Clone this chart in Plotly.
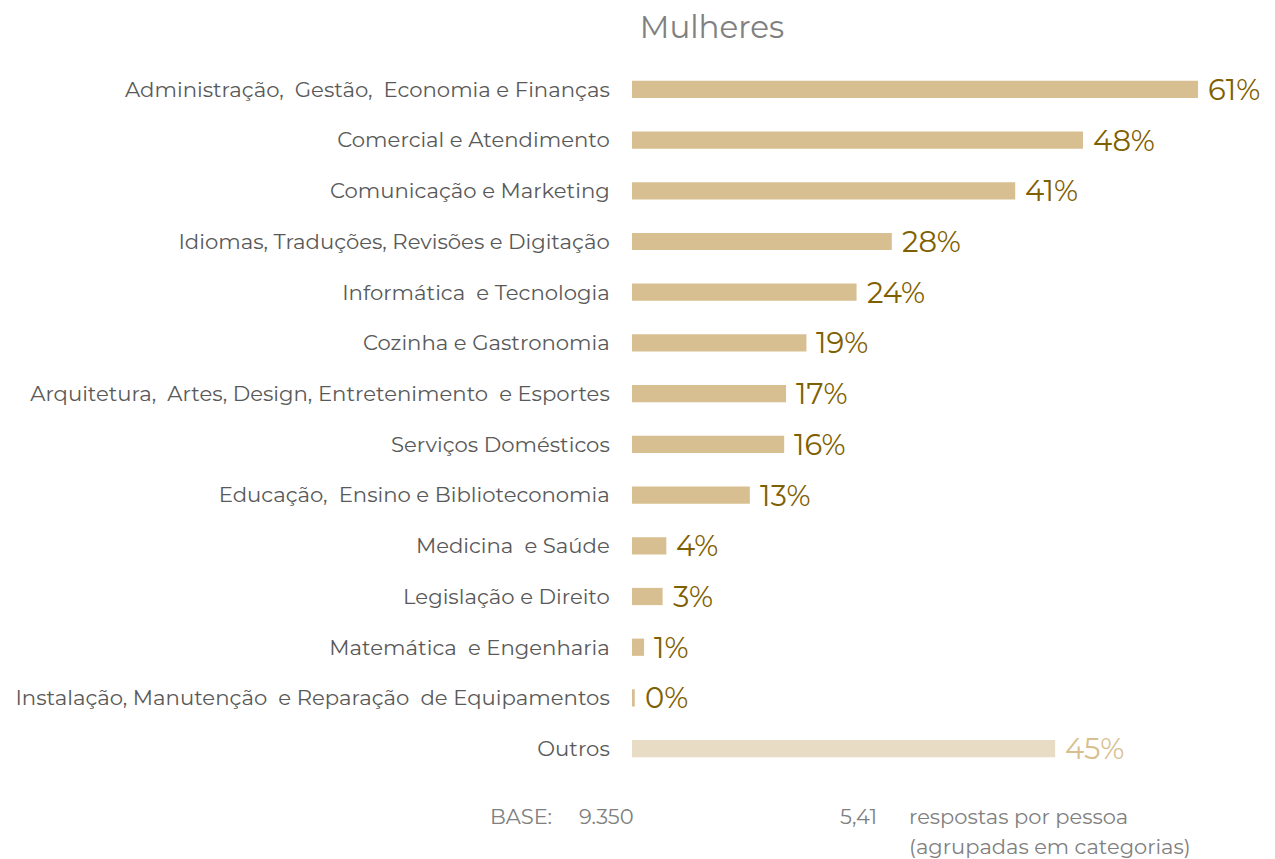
import plotly.graph_objects as go

categories = [
    "Administração,  Gestão,  Economia e Finanças",
    "Comercial e Atendimento",
    "Comunicação e Marketing",
    "Idiomas, Traduções, Revisões e Digitação",
    "Informática  e Tecnologia",
    "Cozinha e Gastronomia",
    "Arquitetura,  Artes, Design, Entretenimento  e Esportes",
    "Serviços Domésticos",
    "Educação,  Ensino e Biblioteconomia",
    "Medicina  e Saúde",
    "Legislação e Direito",
    "Matemática  e Engenharia",
    "Instalação, Manutenção  e Reparação  de Equipamentos",
    "Outros",
]
values = [61.0, 48.6, 41.3, 28.0, 24.2, 18.8, 16.6, 16.4, 12.7, 3.7, 3.3, 1.3, 0.3, 45.6]
value_labels = ["61%", "48%", "41%", "28%", "24%", "19%", "17%", "16%", "13%", "4%", "3%", "1%", "0%", "45%"]

title_text = "Mulheres"
base_label = "BASE:"
base_value = "9.350"
answers_value = "5,41"
answers_line1 = "respostas por pessoa"
answers_line2 = "(agrupadas em categorias)"

bar_color = "#D8BF91"
other_color = "#E8DCC4"
label_color = "#7F6000"
colors = [bar_color] * (len(categories) - 1) + [other_color]
text_colors = [label_color] * (len(categories) - 1) + [bar_color]

FONT = "Montserrat, Lato, 'Open Sans', sans-serif"

# figure sits in the page with an 8px body margin
W, H = 1267, 851
L, T, R, B = 624, 56, 12, 85
PW, PH = W - L - R, H - T - B

fig = go.Figure()
fig.add_trace(go.Bar(
    x=values, y=categories, orientation="h",
    marker=dict(color=colors, line=dict(width=0)),
    width=0.34,
    hoverinfo="skip",
))

for cat, val, lab, col in zip(categories, values, value_labels, text_colors):
    fig.add_annotation(x=val, y=cat, xref="x", yref="y", text=lab, showarrow=False,
                       xanchor="left", yanchor="middle", xshift=8,
                       font=dict(size=29, color=col, family=FONT))

fig.update_layout(
    width=W, height=H,
    margin=dict(l=L, r=R, t=T, b=B, autoexpand=False),
    paper_bgcolor="white", plot_bgcolor="white",
    showlegend=False,
    font=dict(family=FONT, color="#595959"),
    title=dict(text=title_text, x=704 / W, xanchor="center", y=1 - 19 / H, yanchor="middle",
               font=dict(size=31, color="#808080", family=FONT)),
    xaxis=dict(range=[0, 68], visible=False, fixedrange=True, automargin=False),
    yaxis=dict(autorange=False, range=[13.5, -0.5], showgrid=False, zeroline=False, showline=False,
               automargin=False,
               ticks="outside", ticklen=17, tickcolor="rgba(0,0,0,0)",
               tickfont=dict(size=21.2, color="#595959", family=FONT)),
)

def px_x(fx):
    return (fx - L) / PW

def px_y(fy):
    return -(fy - (T + PH)) / PH

foot_font = dict(size=21, color="#808080", family=FONT)
for txt, fx, fy in [(base_label, 480, 808), (base_value, 569, 808), (answers_value, 830, 808),
                    (answers_line1, 899, 809), (answers_line2, 899, 838)]:
    fig.add_annotation(text=txt, xref="paper", yref="paper", x=px_x(fx), y=px_y(fy),
                       xanchor="left", yanchor="middle", showarrow=False, font=foot_font)

fig.write_html("out.html")
